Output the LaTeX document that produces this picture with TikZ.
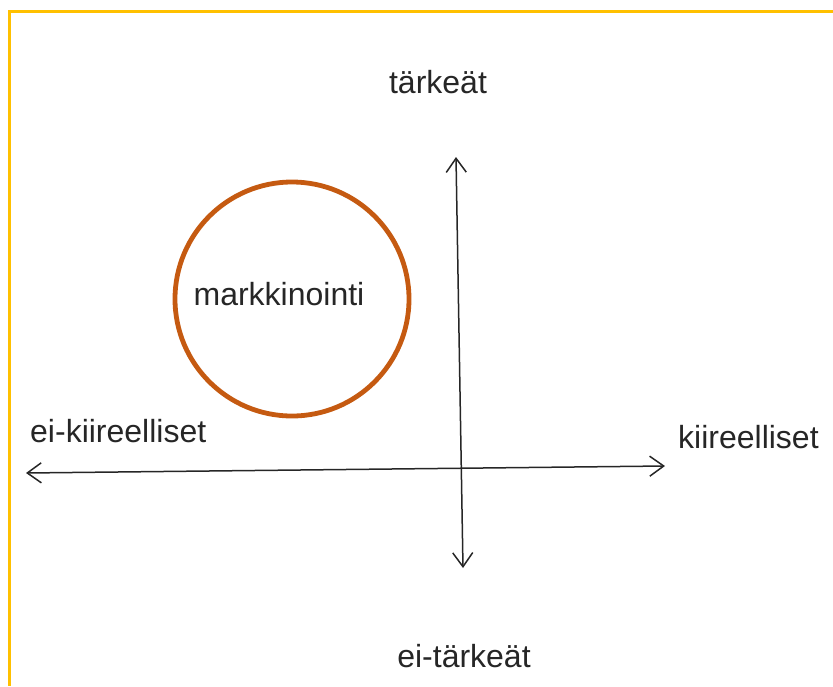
\documentclass[tikz,border=0pt]{standalone}
\usepackage{fontspec}
\setmainfont{Liberation Sans}
\usetikzlibrary{arrows.meta}
\definecolor{frameYellow}{HTML}{FFC000}
\definecolor{ringOrange}{HTML}{C55A11}
\begin{document}
\begin{tikzpicture}[x=1pt, y=-1pt, font=\fontsize{32}{38}\selectfont ,
barb/.tip={Straight Barb[length=14pt, width=20pt]} ,
axis/.style={barb-barb, line width=1.5pt, draw=black!85} ,
frameLine/.style={draw=frameYellow, line width=3pt} ,
ring/.style={circle, draw=ringOrange, line width=4.8pt, minimum size=234pt, inner sep=0pt} ,
axisName/.style={text=black!85, inner sep=0pt}
]
\useasboundingbox (0,0) rectangle (833,686) ;

\draw [frameLine] (9,686) -- (9,11.5) -- (833,11.5) ;

\node [ring] (circle) at (292,299) {} ;
\node [axisName, anchor=base] (markkinointi) at (279,305) {markkinointi} ;

\coordinate (top) at (456,157) ;
\coordinate (bottom) at (463,568) ;
\coordinate (left) at (26,473) ;
\coordinate (right) at (665,466) ;
\draw [axis] (bottom) -- (top) ;
\draw [axis] (left) -- (right) ;

\node [axisName, anchor=base] (important) at (438,93) {tärkeät} ;
\node [axisName, anchor=base] (not-important) at (464,667) {ei-tärkeät} ;
\node [axisName, anchor=base west] (not-urgent) at (30,442) {ei-kiireelliset} ;
\node [axisName, anchor=base west] (urgent) at (678,448) {kiireelliset} ;
\end{tikzpicture}
\end{document}
